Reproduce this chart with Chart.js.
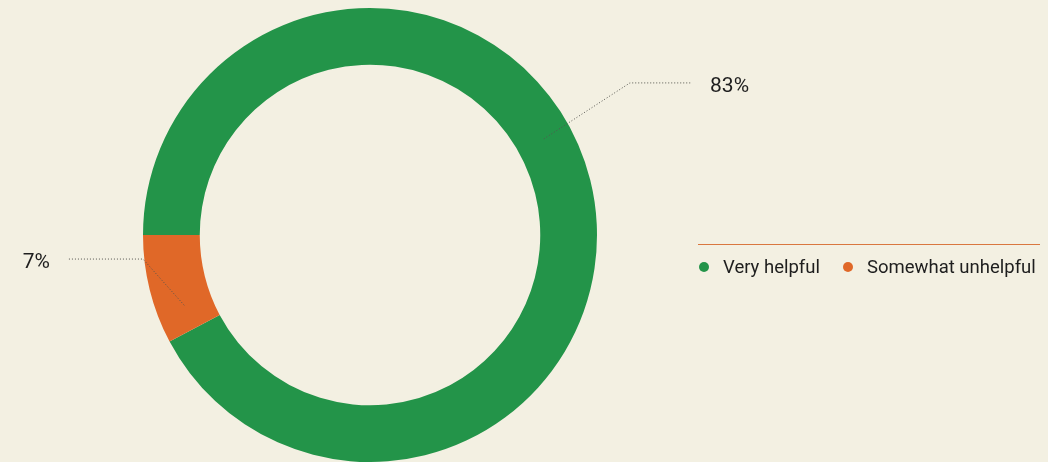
<!DOCTYPE html>
<html>
<head>
<meta charset="utf-8">
<script src="https://cdn.jsdelivr.net/npm/chart.js@4"></script>
<style>
  html, body { margin: 0; padding: 0; background: #f3f0e2; }
  #wrap { width: 1048px; height: 462px; position: relative; }
</style>
</head>
<body>
<div id="wrap"><canvas id="donut"></canvas></div>
<script>
const categories = ["Very helpful", "Somewhat unhelpful"];
const values = [83, 7];
const valueLabels = ["83%", "7%"];
const colors = ["#239449", "#e06828"];

const FONT = "Roboto, 'Open Sans', sans-serif";

// dotted connectors + labels, positions given relative to the ring radius
const leaderPlugin = {
  id: "leaders",
  afterDatasetsDraw(chart, args, opts) {
    const ctx = chart.ctx;
    const meta = chart.getDatasetMeta(0);
    meta.data.forEach((arc, i) => {
      const cfg = opts.items[i];
      if (!cfg) return;
      const p = arc.getProps(["x", "y", "startAngle", "endAngle", "innerRadius", "outerRadius"], true);
      const a = p.startAngle + cfg.anchor * (p.endAngle - p.startAngle);
      const r = (p.innerRadius + p.outerRadius) / 2;
      const R = p.outerRadius;
      const ax = p.x + Math.cos(a) * r;
      const ay = p.y + Math.sin(a) * r;
      const ex = p.x + cfg.elbow[0] * R;
      const ey = p.y + cfg.elbow[1] * R;
      const hx = p.x + cfg.end * R;
      ctx.save();
      ctx.strokeStyle = "#55554f";
      ctx.lineWidth = 1;
      ctx.setLineDash([1, 2]);
      ctx.beginPath();
      ctx.moveTo(ax, ay);
      ctx.lineTo(ex, ey);
      ctx.lineTo(hx, ey);
      ctx.stroke();
      ctx.setLineDash([]);
      ctx.fillStyle = "#1e1e1e";
      ctx.font = "21px " + FONT;
      ctx.textBaseline = "middle";
      ctx.textAlign = cfg.end > 0 ? "left" : "right";
      ctx.fillText(valueLabels[i], p.x + cfg.text * R, ey + 4);
      ctx.restore();
    });
  },
};

// legend drawn at the right, under a thin rule
const legendPlugin = {
  id: "sideLegend",
  afterDraw(chart, args, opts) {
    const ctx = chart.ctx;
    ctx.save();
    ctx.strokeStyle = "#d9773f";
    ctx.lineWidth = 1;
    ctx.beginPath();
    ctx.moveTo(opts.x, opts.ruleY + 0.5);
    ctx.lineTo(opts.x + opts.width, opts.ruleY + 0.5);
    ctx.stroke();
    ctx.font = "18.5px " + FONT;
    ctx.textBaseline = "middle";
    let x = opts.x + 6;
    categories.forEach((c, i) => {
      ctx.fillStyle = colors[i];
      ctx.beginPath();
      ctx.arc(x, opts.itemY, 5, 0, Math.PI * 2);
      ctx.fill();
      ctx.fillStyle = "#1e1e1e";
      ctx.fillText(c, x + 19, opts.itemY + 1);
      x += 19 + ctx.measureText(c).width + 28;
    });
    ctx.restore();
  },
};

new Chart(document.getElementById("donut").getContext("2d"), {
  type: "doughnut",
  data: {
    labels: categories,
    datasets: [
      {
        data: values,
        backgroundColor: colors,
        borderWidth: 0,
      },
    ],
  },
  options: {
    responsive: true,
    maintainAspectRatio: false,
    animation: false,
    rotation: -90,
    cutout: "75%",
    layout: { padding: { left: 143, right: 451, top: 8, bottom: 0 } },
    plugins: {
      legend: { display: false },
      tooltip: { enabled: false },
      leaders: {
        items: [
          { anchor: 0.455, elbow: [1.145, -0.67], end: 1.414, text: 1.498 },
          { anchor: 0.26, elbow: [-1.0, 0.106], end: -1.33, text: -1.41 },
        ],
      },
      sideLegend: { x: 698, width: 342, ruleY: 244, itemY: 267 },
    },
  },
  plugins: [leaderPlugin, legendPlugin],
});
</script>
</body>
</html>
